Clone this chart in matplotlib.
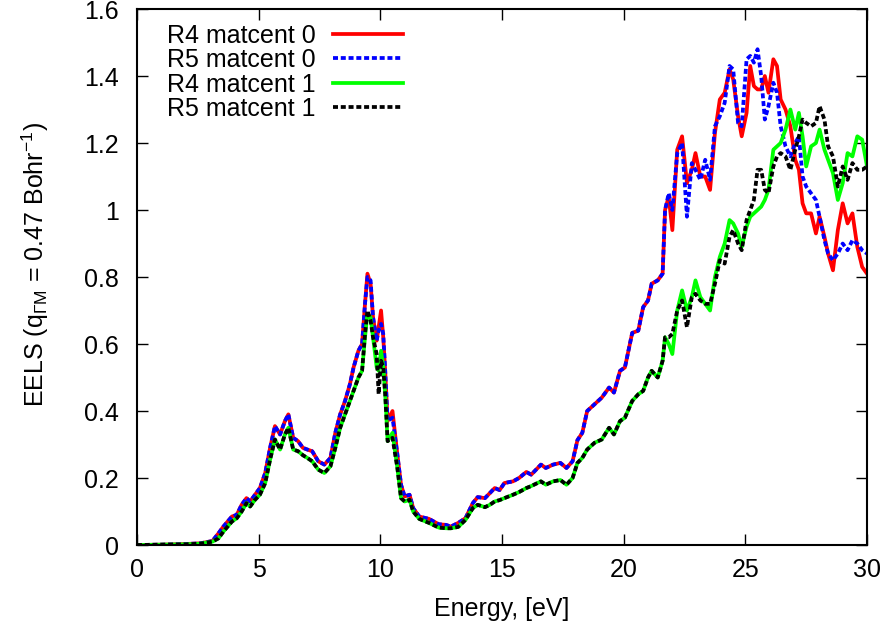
import matplotlib
matplotlib.use('Agg')
import matplotlib.pyplot as plt
import numpy as np

plt.rcParams['font.family'] = ['Liberation Sans', 'DejaVu Sans']
plt.rcParams['mathtext.fontset'] = 'custom'
plt.rcParams['mathtext.rm'] = 'Liberation Sans'
plt.rcParams['mathtext.it'] = 'Liberation Sans'
plt.rcParams['lines.scale_dashes'] = False

# energy grid, eV
energy = [0.0, 1.0, 2.0, 2.6, 3.1, 3.35, 3.55, 3.9, 4.1, 4.3,
          4.5, 4.65, 4.85, 5.05, 5.27, 5.47, 5.67, 5.88, 6.08, 6.22,
          6.42, 6.62, 6.82, 7.0, 7.2, 7.45, 7.7, 7.95, 8.15, 8.35,
          8.55, 8.75, 8.9, 9.1, 9.25, 9.37, 9.47, 9.6, 9.7, 9.85,
          9.93, 10.03, 10.12, 10.2, 10.3, 10.5, 10.7, 10.85, 11.0, 11.2,
          11.35, 11.6, 12.0, 12.4, 12.7, 12.9, 13.2, 13.5, 13.8, 14.0,
          14.3, 14.5, 14.7, 14.9, 15.1, 15.45, 15.7, 16.0, 16.2, 16.4,
          16.6, 16.8, 17.1, 17.4, 17.65, 17.9, 18.1, 18.3, 18.5, 18.8,
          19.1, 19.4, 19.6, 19.85, 20.05, 20.35, 20.6, 20.8, 21.0, 21.15,
          21.4, 21.6, 21.7, 21.85, 22.0, 22.2, 22.4, 22.6, 22.8, 22.95,
          23.15, 23.35, 23.55, 23.75, 23.95, 24.15, 24.35, 24.5, 24.7, 24.85,
          25.05, 25.2, 25.35, 25.5, 25.65, 25.8, 25.95, 26.15, 26.3, 26.45,
          26.65, 26.85, 27.05, 27.2, 27.35, 27.5, 27.7, 27.9, 28.05, 28.25,
          28.4, 28.6, 28.8, 29.0, 29.2, 29.4, 29.6, 29.8, 30.0]

r4_mc0 = [0.0, 0.001, 0.003, 0.005, 0.012, 0.035, 0.055, 0.085, 0.09, 0.12,
          0.14, 0.13, 0.15, 0.17, 0.215, 0.29, 0.355, 0.33, 0.37, 0.39,
          0.32, 0.31, 0.29, 0.285, 0.28, 0.25, 0.24, 0.26, 0.335, 0.39,
          0.43, 0.48, 0.53, 0.58, 0.60, 0.72, 0.81, 0.78, 0.68, 0.61,
          0.65, 0.70, 0.62, 0.52, 0.37, 0.40, 0.27, 0.18, 0.145, 0.15,
          0.11, 0.085, 0.078, 0.062, 0.06, 0.055, 0.066, 0.08, 0.125, 0.143,
          0.14, 0.155, 0.17, 0.164, 0.185, 0.19, 0.20, 0.218, 0.21, 0.225,
          0.24, 0.23, 0.24, 0.245, 0.23, 0.25, 0.313, 0.335, 0.40, 0.42,
          0.44, 0.47, 0.455, 0.52, 0.53, 0.633, 0.64, 0.71, 0.73, 0.78,
          0.79, 0.81, 1.00, 1.04, 0.94, 1.18, 1.22, 1.08, 1.12, 1.17,
          1.10, 1.10, 1.06, 1.23, 1.33, 1.35, 1.42, 1.39, 1.28, 1.22,
          1.29, 1.43, 1.37, 1.36, 1.36, 1.40, 1.35, 1.45, 1.43, 1.33,
          1.30, 1.25, 1.15, 1.12, 1.02, 0.99, 0.99, 0.93, 0.98, 0.92,
          0.87, 0.82, 0.94, 1.02, 0.96, 0.99, 0.89, 0.83, 0.81]

r5_mc0 = [0.0, 0.001, 0.003, 0.005, 0.012, 0.035, 0.055, 0.085, 0.09, 0.12,
          0.14, 0.13, 0.15, 0.17, 0.215, 0.29, 0.355, 0.33, 0.37, 0.39,
          0.32, 0.31, 0.29, 0.285, 0.28, 0.25, 0.24, 0.26, 0.335, 0.39,
          0.43, 0.48, 0.53, 0.58, 0.60, 0.72, 0.80, 0.79, 0.68, 0.61,
          0.64, 0.66, 0.63, 0.52, 0.37, 0.38, 0.27, 0.18, 0.145, 0.15,
          0.11, 0.085, 0.078, 0.062, 0.06, 0.055, 0.066, 0.08, 0.125, 0.143,
          0.14, 0.155, 0.17, 0.164, 0.185, 0.19, 0.20, 0.218, 0.21, 0.225,
          0.24, 0.23, 0.24, 0.245, 0.23, 0.25, 0.313, 0.335, 0.40, 0.42,
          0.44, 0.47, 0.455, 0.52, 0.53, 0.633, 0.64, 0.71, 0.73, 0.78,
          0.79, 0.81, 1.00, 1.05, 1.00, 1.17, 1.20, 0.98, 1.14, 1.12,
          1.09, 1.15, 1.09, 1.25, 1.28, 1.32, 1.43, 1.42, 1.26, 1.25,
          1.45, 1.46, 1.44, 1.48, 1.40, 1.27, 1.31, 1.38, 1.35, 1.25,
          1.19, 1.16, 1.20, 1.22, 1.10, 1.07, 1.05, 1.03, 0.98, 0.91,
          0.87, 0.85, 0.87, 0.90, 0.88, 0.91, 0.90, 0.88, 0.87]

r4_mc1 = [0.0, 0.001, 0.002, 0.004, 0.01, 0.02, 0.04, 0.07, 0.08, 0.10,
          0.125, 0.115, 0.135, 0.15, 0.185, 0.255, 0.315, 0.285, 0.33, 0.35,
          0.285, 0.28, 0.268, 0.26, 0.25, 0.225, 0.215, 0.235, 0.29, 0.35,
          0.39, 0.43, 0.46, 0.50, 0.52, 0.62, 0.69, 0.68, 0.62, 0.53,
          0.52, 0.58, 0.53, 0.45, 0.31, 0.335, 0.23, 0.14, 0.13, 0.135,
          0.10, 0.078, 0.066, 0.052, 0.05, 0.05, 0.054, 0.075, 0.11, 0.12,
          0.113, 0.12, 0.13, 0.134, 0.14, 0.15, 0.158, 0.17, 0.176, 0.183,
          0.19, 0.18, 0.19, 0.194, 0.18, 0.20, 0.245, 0.26, 0.285, 0.305,
          0.315, 0.35, 0.33, 0.37, 0.38, 0.43, 0.45, 0.46, 0.50, 0.52,
          0.50, 0.55, 0.62, 0.60, 0.57, 0.70, 0.76, 0.70, 0.74, 0.79,
          0.74, 0.72, 0.70, 0.80, 0.86, 0.90, 0.97, 0.96, 0.93, 0.89,
          0.95, 0.98, 0.99, 1.00, 1.01, 1.03, 1.06, 1.18, 1.19, 1.20,
          1.24, 1.30, 1.24, 1.29, 1.22, 1.13, 1.19, 1.20, 1.24, 1.18,
          1.15, 1.11, 1.03, 1.08, 1.17, 1.16, 1.22, 1.21, 1.13]

r5_mc1 = [0.0, 0.001, 0.002, 0.004, 0.01, 0.02, 0.04, 0.07, 0.08, 0.10,
          0.125, 0.115, 0.135, 0.15, 0.185, 0.255, 0.315, 0.285, 0.33, 0.35,
          0.285, 0.28, 0.268, 0.26, 0.25, 0.225, 0.215, 0.235, 0.29, 0.35,
          0.39, 0.43, 0.46, 0.50, 0.52, 0.63, 0.70, 0.67, 0.62, 0.57,
          0.45, 0.55, 0.53, 0.45, 0.31, 0.32, 0.23, 0.14, 0.13, 0.135,
          0.10, 0.078, 0.066, 0.052, 0.05, 0.05, 0.054, 0.075, 0.11, 0.12,
          0.113, 0.12, 0.13, 0.134, 0.14, 0.15, 0.158, 0.17, 0.176, 0.183,
          0.19, 0.18, 0.19, 0.194, 0.18, 0.20, 0.245, 0.26, 0.285, 0.305,
          0.315, 0.35, 0.33, 0.37, 0.38, 0.43, 0.45, 0.46, 0.50, 0.52,
          0.50, 0.55, 0.62, 0.62, 0.63, 0.70, 0.73, 0.65, 0.74, 0.75,
          0.73, 0.72, 0.72, 0.78, 0.85, 0.84, 0.92, 0.94, 0.90, 0.88,
          0.97, 1.00, 1.03, 1.12, 1.12, 1.06, 1.05, 1.13, 1.16, 1.17,
          1.16, 1.12, 1.18, 1.22, 1.27, 1.26, 1.25, 1.26, 1.31, 1.27,
          1.19, 1.16, 1.07, 1.13, 1.09, 1.14, 1.12, 1.12, 1.13]

series = [
    ('R4 matcent 0', r4_mc0, '#ff0000', '-'),
    ('R5 matcent 0', r5_mc0, '#0000ff', '--'),
    ('R4 matcent 1', r4_mc1, '#00ff00', '-'),
    ('R5 matcent 1', r5_mc1, '#000000', '--'),
]

fig, ax = plt.subplots(figsize=(8.86, 6.30), dpi=100)
fig.subplots_adjust(left=0.1546, right=0.9786, top=0.9857, bottom=0.1349)

x = np.array(energy)
for label, ys, color, ls in series:
    line, = ax.plot(x, ys, color=color, linestyle=ls, linewidth=2.7, label=label)
    if ls == '--':
        line.set_dashes((3.6, 2.0))

ax.set_xlim(0, 30)
ax.set_ylim(0, 1.6)
ax.set_xticks(np.arange(0, 31, 5))
ax.set_yticks(np.arange(0, 1.61, 0.2))
ax.set_yticklabels(['0', '0.2', '0.4', '0.6', '0.8', '1', '1.2', '1.4', '1.6'])
ax.tick_params(direction='in', length=8, width=1, top=True, right=True,
               labelsize=18)
ax.tick_params(axis='x', pad=9)
ax.tick_params(axis='y', pad=13)
for sp in ax.spines.values():
    sp.set_linewidth(1.5)

ax.set_xlabel('Energy, [eV]', fontsize=18)
ax.set_ylabel(r'EELS (q$_{\Gamma\mathrm{M}}$ = 0.47 Bohr$^{-1}$)', fontsize=18)
ax.xaxis.set_label_coords(0.5, -0.097)
ax.yaxis.set_label_coords(-0.118, 0.524)

ax.legend(loc='upper left', bbox_to_anchor=(0.0214, 1.0), frameon=False,
          markerfirst=False, fontsize=18, handlelength=2.8,
          handletextpad=0.68, labelspacing=0.02, borderaxespad=0.0,
          borderpad=0.58)

fig.savefig('out.png', dpi=100)
